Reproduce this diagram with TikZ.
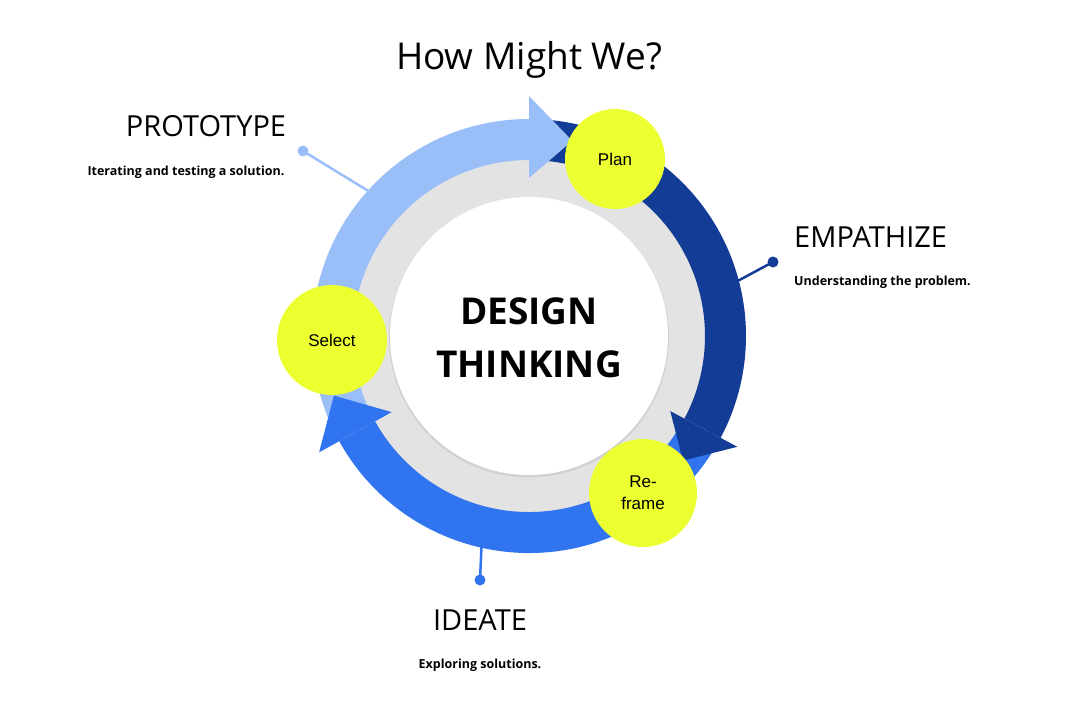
\documentclass[tikz,border=0pt]{standalone}
\usepackage{fontspec}
\usepackage{tikz}
\newfontfamily\headfont{Open Sans}
\newfontfamily\circfont{Liberation Sans}
\definecolor{lightarc}{RGB}{154,191,248}
\definecolor{darkarc}{RGB}{18,60,150}
\definecolor{midarc}{RGB}{49,116,240}
\definecolor{ringgray}{RGB}{227,227,227}
\definecolor{bubbleyellow}{RGB}{236,255,48}
\tikzset{
  stage/.style={font=\headfont\fontsize{29}{32}\selectfont},
  note/.style={font=\headfont\bfseries\fontsize{12.5}{15}\selectfont},
  bubble/.style={circle,fill=bubbleyellow,inner sep=0pt,align=center,font=\circfont\fontsize{17}{22}\selectfont},
  pindot/.style={circle,fill,inner sep=0pt,minimum size=11pt},
  pinline/.style={line width=2.5pt}
}
\begin{document}
\begin{tikzpicture}[x=1pt,y=-1pt]
        \useasboundingbox (0,0) rectangle (1079,714);
        \node[font=\headfont\fontsize{37}{40}\selectfont] (hmw) at (529,60) {How Might We?};
        \node[pindot,lightarc] (protodot) at (303,151) {};
        \node[pindot,darkarc] (empdot) at (773,262) {};
        \node[pindot,midarc] (ideadot) at (480,580) {};
        \begin{scope}[shift={(529,336)},yscale=-1]
            \coordinate (protoend) at (137.6:210);
            \coordinate (empend) at (14.4:210);
            \coordinate (ideaend) at (-103:210);
            \draw[pinline,lightarc] (protodot.center)--(protoend);
            \draw[pinline,darkarc] (empdot.center)--(empend);
            \draw[pinline,midarc] (ideadot.center)--(ideaend);
            \fill[black!6] (0,-3) circle (182);
            \fill[ringgray] (0,0) circle (180);
            \fill[black!18] (0,-1.5) circle (140);
            \fill[white] (0,0) circle (139);
            \fill[midarc] (-30:176) arc[start angle=-30,end angle=-151,radius=176]
                --(-151:217) arc[start angle=-151,end angle=-30,radius=217]--cycle;
            \fill[darkarc] (86:176) arc[start angle=86,end angle=-28,radius=176]
                --(-28:217) arc[start angle=-28,end angle=86,radius=217]--cycle;
            \fill[darkarc] (-28:160)--(-39:198)--(-28:236)--cycle;
            \fill[lightarc] (207:176) arc[start angle=207,end angle=90,radius=176]
                --(90:217) arc[start angle=90,end angle=207,radius=217]--cycle;
            \fill[lightarc] (90:158)--(77.5:200)--(90:240)--cycle;
            \fill[midarc] (-151:157)--(-163:204)--(-151:240)--cycle;
        \end{scope}
        \node[bubble,minimum size=100pt] (plan) at (615,159) {Plan};
        \node[bubble,minimum size=110pt] (select) at (332,340) {Select};
        \node[bubble,minimum size=108pt] (reframe) at (643,493) {Re-\\frame};
        \node[font=\headfont\bfseries\fontsize{37}{40}\selectfont] (design) at (529,311) {DESIGN};
        \node[font=\headfont\bfseries\fontsize{37}{40}\selectfont] (thinking) at (529,364) {THINKING};
        \node[stage] (proto) at (206,126) {PROTOTYPE};
        \node[note] (protonote) at (186,172) {Iterating and testing a solution.};
        \node[stage,anchor=west,inner sep=0pt] (emp) at (794,237) {EMPATHIZE};
        \node[note,anchor=west,inner sep=0pt] (empnote) at (794,282) {Understanding the problem.};
        \node[stage] (idea) at (480,620) {IDEATE};
        \node[note] (ideanote) at (480,665) {Exploring solutions.};
    \end{tikzpicture}
\end{document}
